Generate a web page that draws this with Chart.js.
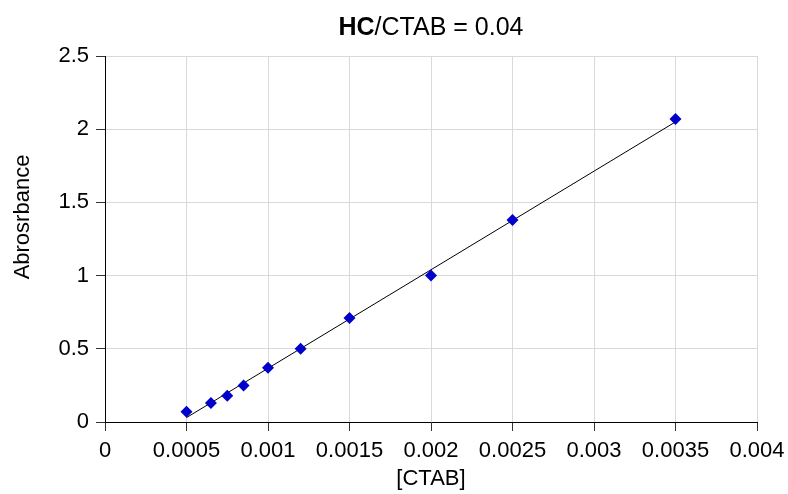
<!DOCTYPE html>
<html>
<head>
<meta charset="utf-8">
<script src="https://cdn.jsdelivr.net/npm/chart.js@4/dist/chart.umd.min.js"></script>
<style>
  html, body { margin: 0; padding: 0; background: #fff; }
  #wrap { width: 788px; height: 494px; }
</style>
</head>
<body>
<div id="wrap"><canvas id="chart" width="788" height="494"></canvas></div>
<script>
// Measured points
const ctabConc = [0.0005, 0.00065, 0.00075, 0.00085, 0.001, 0.0012, 0.0015, 0.002, 0.0025, 0.0035];
const absorbance = [0.07, 0.13, 0.18, 0.25, 0.37, 0.50, 0.71, 1.00, 1.38, 2.07];

// Linear trendline ends
const trendX = [0.0005, 0.0035];
const trendY = [0.03, 2.05];

// Axis ticks
const xTicks = [0, 0.0005, 0.001, 0.0015, 0.002, 0.0025, 0.003, 0.0035, 0.004];
const xTickLabels = ['0', '0.0005', '0.001', '0.0015', '0.002', '0.0025', '0.003', '0.0035', '0.004'];
const yTicks = [0, 0.5, 1, 1.5, 2, 2.5];
const yTickLabels = ['0', '0.5', '1', '1.5', '2', '2.5'];

const FONT = "'Liberation Sans', Arial, sans-serif";

// Title with bold "HC" part, plus the y axis title (sits above centre in the original)
const textBits = {
  id: 'textBits',
  afterDraw(chart) {
    const c = chart.ctx, a = chart.chartArea;
    const boldPart = 'HC', rest = '/CTAB = 0.04';
    c.save();
    c.fillStyle = '#000';
    c.textBaseline = 'middle';
    c.font = 'bold 25px ' + FONT;
    const w1 = c.measureText(boldPart).width;
    c.font = '25px ' + FONT;
    const w2 = c.measureText(rest).width;
    const x0 = (a.left + a.right) / 2 - (w1 + w2) / 2;
    c.textAlign = 'left';
    c.font = 'bold 25px ' + FONT;
    c.fillText(boldPart, x0, 28);
    c.font = '25px ' + FONT;
    c.fillText(rest, x0 + w1, 28);

    // y axis title
    c.font = '22px ' + FONT;
    c.textAlign = 'center';
    c.translate(23, 217);
    c.rotate(-Math.PI / 2);
    c.fillText('Abrosrbance', 0, 0);
    c.restore();
  }
};

new Chart(document.getElementById('chart'), {
  type: 'scatter',
  data: {
    datasets: [
      {
        label: 'data',
        data: ctabConc.map((x, i) => ({x: x, y: absorbance[i]})),
        pointStyle: 'rectRot',
        pointRadius: 6,
        pointHoverRadius: 6,
        backgroundColor: '#0000CC',
        borderColor: '#0000CC',
        borderWidth: 0,
        order: 1
      },
      {
        label: 'trend',
        type: 'line',
        data: trendX.map((x, i) => ({x: x, y: trendY[i]})),
        borderColor: '#000',
        borderWidth: 1,
        pointRadius: 0,
        fill: false,
        order: 2
      }
    ]
  },
  options: {
    responsive: false,
    animation: false,
    layout: { padding: { top: 56, right: 31, left: 0, bottom: 0 } },
    plugins: {
      legend: { display: false },
      title: { display: false },
      tooltip: { enabled: false }
    },
    scales: {
      x: {
        type: 'linear',
        min: 0, max: 0.004,
        afterBuildTicks: s => { s.ticks = xTicks.map(v => ({value: v})); },
        afterFit: s => { s.height = 72; s.paddingLeft = 0; s.paddingRight = 0; },
        ticks: {
          color: '#000',
          font: { family: FONT, size: 22 },
          padding: 7,
          maxRotation: 0,
          autoSkip: false,
          callback: (v, i) => xTickLabels[i]
        },
        grid: { color: '#d9d9d9', tickColor: '#333', tickLength: 9, lineWidth: 1 },
        border: { color: '#000', width: 1 },
        title: {
          display: true, text: '[CTAB]', color: '#000',
          font: { family: FONT, size: 22 },
          padding: { top: 0, bottom: 2 }
        }
      },
      y: {
        type: 'linear',
        min: 0, max: 2.5,
        afterBuildTicks: s => { s.ticks = yTicks.map(v => ({value: v})); },
        afterFit: s => { s.width = 105; },
        ticks: {
          color: '#000',
          font: { family: FONT, size: 22 },
          padding: 7,
          autoSkip: false,
          callback: (v, i) => yTickLabels[i]
        },
        grid: { color: '#d9d9d9', tickColor: '#333', tickLength: 9, lineWidth: 1 },
        border: { color: '#000', width: 1 },
        title: { display: false }
      }
    }
  },
  plugins: [textBits]
});
</script>
</body>
</html>
